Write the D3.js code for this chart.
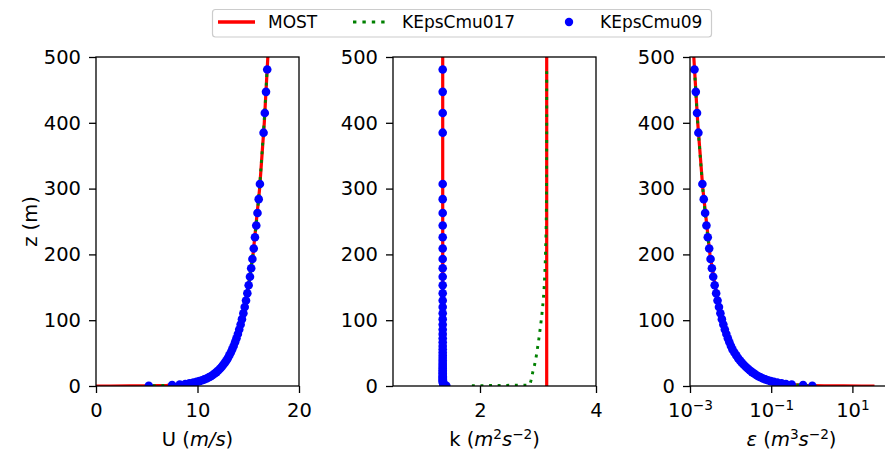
<!DOCTYPE html>
<html>
<head>
<meta charset="utf-8">
<script src="https://cdn.jsdelivr.net/npm/d3@7"></script>
<style>
body { margin: 0; background: #fff; }
svg { font-family: "DejaVu Sans", sans-serif; }
</style>
</head>
<body>
<svg width="885" height="463"></svg>
<script>
// MOST analytic profile
var mostZ = [0.0127, 0.03, 0.1, 0.3, 1, 2, 5, 10, 20, 40, 70, 100, 150, 200, 300, 400, 500];
var mostU = [0.0, 1.38, 3.31, 5.06, 6.99, 8.10, 9.56, 10.67, 11.78, 12.89, 13.79, 14.36, 15.01, 15.47, 16.12, 16.58, 16.93];
var mostEps = [35, 17, 6.0, 2.0, 0.62, 0.31, 0.125, 0.064, 0.033, 0.016, 0.009, 0.0063, 0.0042, 0.0031, 0.00207, 0.00155, 0.00124];
var mostKZ = [0, 500];
var mostK09 = [1.357, 1.357];
var mostK017 = [3.15, 3.15];

// cell heights of the CFD profiles
var cellZ = [0.35, 1.4, 2.2, 3.1, 4.0, 5.1, 6.2, 7.4, 8.7, 10.0, 11.5, 13.2, 14.9, 16.8, 18.9, 21.1, 23.5, 26.1, 28.8, 31.8,
    35.1, 38.6, 42.4, 46.5, 50.9, 55.7, 60.8, 66.4, 72.4, 78.9, 85.9, 93.5, 101.6, 110.5, 120, 130, 141, 153, 166, 179,
    193, 209, 226, 244, 263, 284, 307, 385, 415, 447, 481];

var cmu017U = [5.6, 7.6, 8.3, 8.85, 9.25, 9.63, 9.94, 10.21, 10.47, 10.69, 10.91, 11.13, 11.32, 11.51, 11.7, 11.88, 12.05, 12.22, 12.37, 12.53,
    12.69, 12.84, 12.99, 13.14, 13.28, 13.42, 13.56, 13.7, 13.84, 13.97, 14.11, 14.24, 14.38, 14.51, 14.64, 14.77, 14.9, 15.03, 15.16, 15.28,
    15.41, 15.53, 15.66, 15.78, 15.9, 16.02, 16.14, 16.5, 16.62, 16.74, 16.86];
var cmu017K = [1.86, 2.85, 2.855, 2.86, 2.865, 2.87, 2.873, 2.876, 2.88, 2.883, 2.887, 2.89, 2.895, 2.9, 2.905, 2.91, 2.917, 2.924, 2.932, 2.94,
    2.948, 2.956, 2.964, 2.972, 2.98, 2.988, 2.997, 3.006, 3.016, 3.026, 3.036, 3.047, 3.058, 3.069, 3.08, 3.09, 3.1, 3.108, 3.115, 3.121,
    3.127, 3.132, 3.137, 3.141, 3.144, 3.146, 3.148, 3.15, 3.15, 3.15, 3.15];
var cmu017Eps = [0.8, 0.5, 0.3, 0.22, 0.175, 0.138, 0.114, 0.096, 0.082, 0.071, 0.062, 0.054, 0.048, 0.0425, 0.0378, 0.0335, 0.0299, 0.0267, 0.0239, 0.0213,
    0.019, 0.017, 0.0152, 0.0137, 0.0123, 0.0111, 0.0102, 0.00932, 0.00855, 0.00785, 0.00721, 0.00662, 0.0061, 0.0056, 0.00516, 0.00476, 0.0044, 0.00405, 0.00373, 0.00346,
    0.00321, 0.00297, 0.00274, 0.00254, 0.00236, 0.00218, 0.00202, 0.00161, 0.00149, 0.00139, 0.00129];

var cmu09U = [5.2, 7.5, 8.25, 8.8, 9.21, 9.6, 9.91, 10.19, 10.45, 10.67, 10.9, 11.12, 11.31, 11.5, 11.69, 11.87, 12.04, 12.21, 12.37, 12.52,
    12.68, 12.84, 12.99, 13.13, 13.28, 13.42, 13.56, 13.7, 13.84, 13.98, 14.11, 14.25, 14.38, 14.52, 14.65, 14.78, 14.91, 15.04, 15.17, 15.29,
    15.41, 15.54, 15.66, 15.79, 15.91, 16.03, 16.15, 16.51, 16.63, 16.75, 16.87];
var cmu09K = [1.42, 1.39, 1.375, 1.37, 1.365, 1.362, 1.36, 1.36, 1.359, 1.359, 1.358, 1.358, 1.358, 1.358, 1.357, 1.357, 1.357, 1.357, 1.357, 1.357,
    1.357, 1.357, 1.357, 1.357, 1.357, 1.357, 1.357, 1.357, 1.357, 1.357, 1.357, 1.357, 1.357, 1.357, 1.357, 1.357, 1.357, 1.357, 1.357, 1.357,
    1.357, 1.357, 1.357, 1.357, 1.357, 1.357, 1.357, 1.357, 1.357, 1.357, 1.357];
var cmu09Eps = [1.03, 0.61, 0.32, 0.23, 0.18, 0.141, 0.116, 0.097, 0.083, 0.072, 0.0626, 0.0545, 0.0483, 0.0428, 0.038, 0.0337, 0.03, 0.0268, 0.024, 0.0214,
    0.0191, 0.0171, 0.0153, 0.0138, 0.0124, 0.0111, 0.0102, 0.00934, 0.00856, 0.00786, 0.00722, 0.00663, 0.0061, 0.00561, 0.00517, 0.00477, 0.0044, 0.00405, 0.00373, 0.00346,
    0.00321, 0.00297, 0.00274, 0.00254, 0.00236, 0.00218, 0.00202, 0.00161, 0.00149, 0.00139, 0.00129];

var zTicks = [0, 100, 200, 300, 400, 500];
var uTicks = [0, 10, 20];
var kTicks = [2, 4];
var epsTicks = [1e-3, 1e-1, 1e1];

var legendNames = ["MOST", "KEpsCmu017", "KEpsCmu09"];

var RED = "#ff0000", GREEN = "#008000", BLUE = "#0000ff";
var FS = 19.5;
var axTop = 57, axBottom = 386, axW = 203;

var svg = d3.select("svg");

var y = d3.scaleLinear().domain([0, 500]).range([axBottom, axTop]);

var panels = [
    {
        left: 96,
        x: d3.scaleLinear().domain([0, 20]).range([96, 96 + axW]),
        ticks: uTicks,
        lines: [[mostZ, mostU]],
        dotted: [[cellZ, cmu017U]],
        dots: [cellZ, cmu09U],
        label: [{ t: "U (" }, { t: "m/s", it: true }, { t: ")" }]
    },
    {
        left: 393,
        x: d3.scaleLinear().domain([0.5, 4]).range([393, 393 + axW]),
        ticks: kTicks,
        lines: [[mostKZ, mostK09], [mostKZ, mostK017]],
        dotted: [[cellZ, cmu017K]],
        dots: [cellZ, cmu09K],
        label: [{ t: "k (" }, { t: "m", it: true }, { t: "2", sup: true }, { t: "s", it: true }, { t: "\u22122", sup: true }, { t: ")" }]
    },
    {
        left: 690,
        x: d3.scaleLog().domain([1e-3, 1e2]).range([690, 690 + axW]),
        ticks: epsTicks,
        log: true,
        lines: [[mostZ, mostEps]],
        dotted: [[cellZ, cmu017Eps]],
        dots: [cellZ, cmu09Eps],
        label: [{ t: "\u03b5", it: true }, { t: " (" }, { t: "m", it: true }, { t: "3", sup: true }, { t: "s", it: true }, { t: "\u22122", sup: true }, { t: ")" }]
    }
];

function mathText(sel, parts, size) {
    var cur = 0;
    parts.forEach(function (p) {
        var target = p.sup ? -0.36 * size : 0;
        var s = sel.append("tspan").text(p.t);
        if (p.it) s.attr("font-style", "italic");
        if (p.sup) s.attr("font-size", size * 0.7);
        if (target !== cur) s.attr("dy", target - cur);
        cur = target;
    });
}

panels.forEach(function (p, i) {
    var x = p.x;
    var line = d3.line()
        .x(function (d) { return x(d[0]); })
        .y(function (d) { return y(d[1]); });

    svg.append("clipPath").attr("id", "clip" + i)
        .append("rect").attr("x", p.left).attr("y", axTop).attr("width", axW).attr("height", axBottom - axTop);

    var g = svg.append("g").attr("clip-path", "url(#clip" + i + ")");

    p.lines.forEach(function (s) {
        g.append("path").datum(d3.zip(s[1], s[0]))
            .attr("d", line).attr("fill", "none")
            .attr("stroke", RED).attr("stroke-width", 3.2);
    });
    p.dotted.forEach(function (s) {
        g.append("path").datum(d3.zip(s[1], s[0]))
            .attr("d", line).attr("fill", "none")
            .attr("stroke", GREEN).attr("stroke-width", 2.9)
            .attr("stroke-dasharray", "2.9,5.7");
    });
    g.selectAll("circle").data(d3.zip(p.dots[1], p.dots[0])).enter()
        .append("circle")
        .attr("cx", function (d) { return x(d[0]); })
        .attr("cy", function (d) { return y(d[1]); })
        .attr("r", 4.3)
        .attr("fill", BLUE);

    // spines
    svg.append("rect")
        .attr("x", p.left).attr("y", axTop).attr("width", axW).attr("height", axBottom - axTop)
        .attr("fill", "none").attr("stroke", "#000").attr("stroke-width", 1.3);

    var ya = svg.append("g").attr("transform", "translate(" + p.left + ",0)")
        .call(d3.axisLeft(y).tickValues(zTicks).tickSize(7).tickPadding(8).tickFormat(d3.format("d")));
    var xAxis = d3.axisBottom(x).tickValues(p.ticks).tickSize(7).tickPadding(10).tickFormat(d3.format("d"));
    if (p.log) xAxis.tickFormat(function () { return ""; });
    var xa = svg.append("g").attr("transform", "translate(0," + axBottom + ")").call(xAxis);

    [ya, xa].forEach(function (a) {
        a.select(".domain").remove();
        a.attr("font-size", FS).attr("font-family", "DejaVu Sans");
        a.selectAll(".tick line").attr("stroke-width", 1.3);
        a.selectAll(".tick text").attr("fill", "#000");
    });

    if (p.log) {
        xa.selectAll(".tick text").each(function (d) {
            var t = d3.select(this);
            var e = Math.round(Math.log10(d));
            t.append("tspan").text("10");
            t.append("tspan").attr("font-size", FS * 0.7).attr("dy", -7)
                .text(e < 0 ? "\u2212" + (-e) : String(e));
        });
    }

    var lab = svg.append("text")
        .attr("x", p.left + axW / 2).attr("y", 446)
        .attr("text-anchor", "middle").attr("font-size", FS);
    mathText(lab, p.label, FS);
});

svg.append("text")
    .attr("transform", "translate(37,221.5) rotate(-90)")
    .attr("text-anchor", "middle").attr("font-size", FS)
    .text("z (m)");

// legend
var lg = svg.append("g");
lg.append("rect")
    .attr("x", 212.5).attr("y", 9.5).attr("width", 499).attr("height", 27.5)
    .attr("rx", 3).attr("fill", "#fff").attr("stroke", "#cccccc").attr("stroke-width", 1.2);
var lx = [218, 353, 553];
lg.append("line").attr("x1", lx[0]).attr("x2", lx[0] + 37).attr("y1", 22).attr("y2", 22)
    .attr("stroke", RED).attr("stroke-width", 3.4);
lg.append("line").attr("x1", lx[1]).attr("x2", lx[1] + 37).attr("y1", 22).attr("y2", 22)
    .attr("stroke", GREEN).attr("stroke-width", 3).attr("stroke-dasharray", "3.4,6");
lg.append("circle").attr("cx", 569).attr("cy", 22).attr("r", 4.2).attr("fill", BLUE);
var textX = [268, 402, 600];
legendNames.forEach(function (n, i) {
    lg.append("text").attr("x", textX[i]).attr("y", 28).attr("font-size", 17).text(n);
});
</script>
</body>
</html>
